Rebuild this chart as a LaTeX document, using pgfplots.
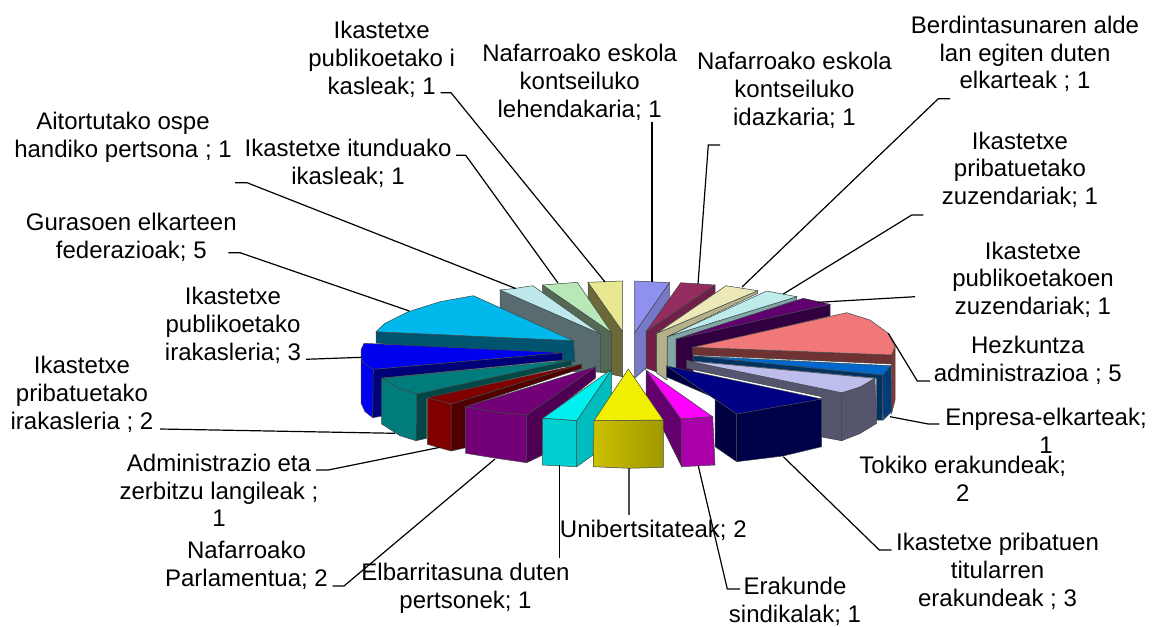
\documentclass[border=0pt]{standalone}
\usepackage{pgfplots}
\pgfplotsset{compat=1.18}
\usepackage{fontspec}
\setmainfont{Liberation Sans}
\definecolor{edge}{RGB}{60,70,70}
\newcommand\partrgb[4]{\addplot[fill={rgb,255:red,#1;green,#2;blue,#3},draw=edge,line width=.5pt] coordinates {#4} --cycle;}
\newcommand\lead[1]{\addplot[black,line width=1.2pt] coordinates {#1};}
\newcommand\lab[3]{\node[align=center,inner sep=0pt,yshift=-1.5pt,font=\fontsize{24}{27.7}\selectfont] at (axis cs:#1,#2) {#3};}
\begin{document}
\begin{tikzpicture}
\path[use as bounding box] (0,0) rectangle (1155pt,626pt);
\begin{axis}[width=1155pt,height=626pt,scale only axis,hide axis,clip=false,
 xmin=0,xmax=1155,ymin=0,ymax=626,y dir=reverse]
% back left slices
\partrgb{108}{104}{56}{(588,282.3)(622.7,331.7)(622.7,376.7)(600,372)(588,320)}
\partrgb{232}{232}{144}{(588,282.3)(622.7,281)(622.7,331.7)}
\partrgb{84}{104}{84}{(542.7,285)(611.7,332.7)(611.7,370)(600,372)(542.7,325)}
\partrgb{184}{232}{184}{(542.7,285)(577.3,282.3)(611.7,332.7)}
\partrgb{88}{108}{112}{(500,290)(600.7,334)(600.7,372)(575,372)(500,330)}
\partrgb{190}{232}{236}{(500,290)(515.7,288.3)(532.7,285.7)(600.7,334)}
% gurasoen
\partrgb{0}{84}{112}{(376,331.7)(573.3,340.7)(575,362)(376,343)}
\partrgb{0}{184}{236}{(376,331.7)(385,323.3)(408.3,311.7)(440,301.7)(473.3,295.7)(573.3,340.7)}
% blue
\partrgb{0}{0}{240}{(361,357.3)(361,403)(365,411.7)(372.7,417.7)(373.3,369.3)}
\partrgb{0}{0}{120}{(373.3,369.3)(562.7,352.7)(562.7,360)(382,378)(382,416)(372.7,417.7)}
\partrgb{0}{0}{240}{(364,343.3)(361,350)(361,357.3)(364,363.3)(373.3,369.3)(562.7,352.7)}
% teal
\partrgb{0}{72}{72}{(416.7,394)(571.7,360)(571.7,365)(426.7,398.3)(426.7,438.3)(416,440.7)}
\partrgb{0}{124}{124}{(381.7,378.3)(398,388)(416.7,394)(571.7,360)}
\partrgb{0}{124}{124}{(381.7,378.3)(398,388)(416.7,394)(416,440.7)(400,435.7)(381.7,424)}
% maroon
\partrgb{80}{0}{0}{(451,404)(581.7,364)(581.7,368.3)(465.7,406.7)(465.7,447.7)(451,451)}
\partrgb{128}{0}{0}{(427.3,397.7)(581.7,364)(451,404)}
\partrgb{128}{0}{0}{(427.3,397.7)(451,404)(451,451)(427.3,444.3)}
% purple
\partrgb{80}{0}{84}{(526.7,415)(595.7,366.7)(595.7,378)(542.7,420)(542.7,455)(526.7,462.7)}
\partrgb{116}{0}{120}{(465.7,406.7)(596,366.7)(526.7,415)(496.7,412.3)}
\partrgb{116}{0}{120}{(465.7,406.7)(496.7,412.3)(526.7,415)(526.7,462.7)(496.7,458.3)(465.7,453.3)}
% cyan
\partrgb{0}{190}{190}{(576.7,420.7)(611.7,369.3)(611.7,410)(593,443)(593,455)(576.7,466.7)}
\partrgb{0}{240}{240}{(542.7,418.3)(611.7,369.3)(576.7,420.7)}
\partrgb{0}{208}{208}{(542.7,418.3)(576.7,420.7)(576.7,466.7)(542.3,465)}
% right back slices
\partrgb{120}{120}{200}{(669.3,282.7)(634.7,332.7)(634.7,378.3)(646,368)(669.3,330)}
\partrgb{144}{144}{240}{(634.7,281)(669.3,282.7)(634.7,332.7)}
\partrgb{112}{32}{72}{(646,331.7)(715,285)(715,303)(656.7,333.3)(656.7,372)(646,368)}
\partrgb{148}{44}{96}{(680.7,282.7)(715,285)(646,331.7)}
\partrgb{180}{176}{136}{(656.7,333.3)(757.7,290.7)(757.7,293.3)(667.3,336.7)(667,380)(656.7,373)}
\partrgb{236}{232}{184}{(726,285.7)(757.7,290.7)(656.7,333.3)}
\partrgb{130}{165}{165}{(667.3,336.7)(796.7,296.7)(796.7,300)(676,340)(676,372)(667.3,372)}
\partrgb{190}{236}{236}{(766.7,291)(796.7,296.7)(667.3,336.7)}
\partrgb{50}{0}{65}{(676,339)(830,304.3)(830,316)(693,348)(693,372)(676,372)}
\partrgb{96}{0}{110}{(803.3,298.3)(820,302)(830,304.3)(676,339)}
% salmon
\partrgb{135}{55}{50}{(895,346.7)(895,400)(891.7,413)(891.7,355)}
\partrgb{110}{50}{50}{(692.7,347.3)(891.7,355)(891.7,364)(692.7,355)}
\partrgb{240}{120}{120}{(846.7,312.7)(870,320)(888.3,333.3)(895,346.7)(891.7,355)(692.7,347.3)}
% enpresa blue
\partrgb{0}{50}{100}{(693.3,356)(882.7,375)(882.7,420)(876.7,420)(876.7,378)(693.3,361)}
\partrgb{0}{60}{120}{(882.7,375)(891,365.7)(891.7,411.7)(883.3,420)}
\partrgb{0}{104}{204}{(693.3,356)(891,365.7)(882.7,375)}
% lavender
\partrgb{85}{85}{110}{(686.7,360.7)(841.7,392.7)(841.7,440.7)(821.7,437)(821.7,396.7)(686.7,368.3)}
\partrgb{85}{85}{110}{(841.7,392.7)(860,387)(875,378.3)(876.7,423.3)(860,433.5)(841.7,440.7)}
\partrgb{190}{190}{236}{(686.7,360.7)(875,378.3)(860,387)(841.7,392.7)}
% navy
\partrgb{0}{0}{64}{(666.7,366)(736.7,414)(736.7,461.7)(715,446.7)(715,398)(666.7,377)}
\partrgb{0}{0}{72}{(736.7,414)(770,408)(821.7,399)(821.7,446.7)(783,456)(736.7,461.7)}
\partrgb{0}{0}{132}{(666.7,366)(821.7,399)(770,408)(736.7,414)}
% magenta
\partrgb{100}{0}{110}{(646,370)(681,419)(681.7,466.7)(646,395)}
\partrgb{255}{0}{255}{(646,370)(712.7,416.7)(681,419)}
\partrgb{170}{0}{170}{(681,419)(712.7,416.7)(715,465)(681.7,466.7)}
% yellow
\addplot[left color={rgb,255:red,204;green,192;blue,0},right color={rgb,255:red,160;green,152;blue,0},draw=edge,line width=.5pt] coordinates {(594,420.7)(663.3,420)(663.3,467.3)(629,468.3)(593.3,466.7)} --cycle;
\partrgb{240}{240}{0}{(628.3,369)(663.3,420)(594,420.7)}
% leaders
\lead{(440.7,92.7)(451,92.7)(605,282)}
\lead{(652,121.7)(652,282)}
\lead{(720,145)(708.3,145)(698,284)}
\lead{(950,98.7)(938.3,98.7)(742,287)}
\lead{(923.3,215)(911.7,215)(783.3,294)}
\lead{(915,296.7)(818,302.3)}
\lead{(930,381)(917.3,381)(888.3,333.3)}
\lead{(939.3,424)(928.3,424)(890,416.7)}
\lead{(891.7,550)(879.3,550)(783.3,456.7)}
\lead{(740,589)(727.3,589)(698.3,466)}
\addplot[black!70,line width=1.2pt] coordinates {(629,515)(629,468.3)};
\lead{(559.3,558.3)(559.3,465)}
\lead{(332.7,586)(344,586)(495,459)}
\lead{(316,470)(328.3,470)(440,447.3)}
\lead{(160,429)(395,433.3)}
\lead{(306,359.3)(361.7,357.3)}
\lead{(228.3,252.7)(240,252.7)(409.3,311)}
\lead{(235,182.7)(247,182.7)(515.7,288.5)}
\lead{(456,155.3)(465.7,155.3)(558,283)}
% labels
\lab{381.7}{57.7}{Ikastetxe\\publikoetako i\\kasleak; 1}
\lab{579.7}{81}{Nafarroako eskola\\kontseiluko\\lehendakaria; 1}
\lab{794.5}{89}{Nafarroako eskola\\kontseiluko\\idazkaria; 1}
\lab{1025}{52.5}{Berdintasunaren alde\\lan egiten duten\\elkarteak ; 1}
\lab{1020}{168.3}{Ikastetxe\\pribatuetako\\zuzendariak; 1}
\lab{1033}{278.3}{Ikastetxe\\publikoetakoen\\zuzendariak; 1}
\lab{1027.8}{359}{Hezkuntza\\administrazioa ; 5}
\lab{1046}{429.5}{Enpresa-elkarteak;\\1}
\lab{962.8}{477}{Tokiko erakundeak;\\2}
\lab{997.5}{570}{Ikastetxe pribatuen\\titularren\\erakundeak ; 3}
\lab{795}{599.5}{Erakunde\\sindikalak; 1}
\lab{653.3}{529.3}{Unibertsitateak; 2}
\lab{465.5}{586.6}{Elbarritasuna duten\\pertsonek; 1}
\lab{246.5}{564}{Nafarroako\\Parlamentua; 2}
\lab{219}{489}{Administrazio eta\\zerbitzu langileak ;\\1}
\lab{82}{393}{Ikastetxe\\pribatuetako\\irakasleria ; 2}
\lab{233}{324}{Ikastetxe\\publikoetako\\irakasleria; 3}
\lab{131.3}{236}{Gurasoen elkarteen\\federazioak; 5}
\lab{123}{136}{Aitortutako ospe\\handiko pertsona ; 1}
\lab{348}{162}{Ikastetxe itunduako\\ikasleak; 1}
\end{axis}
\end{tikzpicture}
\end{document}
